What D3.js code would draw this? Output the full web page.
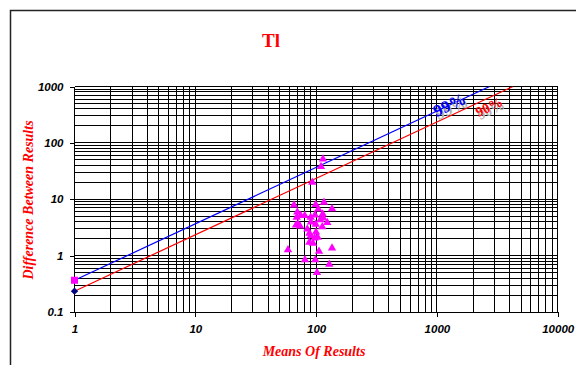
<!DOCTYPE html>
<html>
<head>
<meta charset="utf-8">
<script src="https://cdn.jsdelivr.net/npm/d3@7"></script>
<style>
  body { margin: 0; background: #fff; }
  svg { display: block; }
</style>
</head>
<body>
<svg id="chart" width="576" height="365"></svg>
<script>
// Tl - difference between duplicate results vs their means
let meanVals = [114.0, 109.8, 93.0, 65.6, 99.3, 116.2, 135.5, 104.2, 69.9, 97.9,
  113.4, 74.6, 80.5, 69.1, 90.2, 114.7, 108.3, 90.7, 123.8, 70.8,
  68.2, 73.6, 99.3, 84.6, 112.5, 99.8, 87.9, 90.2, 103.1, 97.3,
  87.9, 94.3, 58.5, 105.7, 135.5, 80.9, 98.5, 128.6, 101.7];
let diffVals = [51.6, 38.0, 19.9, 7.89, 8.05, 8.81, 6.79, 6.70, 5.93, 5.25,
  5.47, 5.14, 5.14, 4.78, 4.78, 4.64, 4.33, 3.94, 3.86, 3.63,
  3.49, 3.35, 3.59, 2.96, 3.25, 2.62, 2.49, 2.25, 2.11, 2.05,
  1.72, 1.65, 1.27, 1.19, 1.36, 0.84, 0.84, 0.70, 0.50];

// control limit lines (difference = k * mean)
let limitNames = ["99%", "90%"];
let limitStart = [0.366, 0.234];   // value at mean = 1
let limitEnd = [1000, 1000];
let limitEndX = [2730, 4270];

let xTicks = [1, 10, 100, 1000, 10000];
let yTicks = [0.1, 1, 10, 100, 1000];

let svg = d3.select("#chart");
let margin = { left: 74.5, right: 18.3, top: 86.5, bottom: 53 };
let W = 576, H = 365;

// outer frame
svg.append("path")
  .attr("d", "M10.5," + (H + 5) + "V10.5H" + (W + 5))
  .attr("fill", "none").attr("stroke", "#222").attr("stroke-width", 1.5);

let x = d3.scaleLog().domain([1, 10000]).range([margin.left, W - margin.right]);
let y = d3.scaleLog().domain([0.1, 1000]).range([H - margin.bottom, margin.top]);

// grid
let gx = [], gy = [];
for (let d = 1; d < 10000; d *= 10) for (let m = 1; m < 10; m++) gx.push(d * m);
gx.push(10000);
for (let d = 0.1; d < 1000; d *= 10) for (let m = 1; m < 10; m++) gy.push(+(d * m).toPrecision(3));
gy.push(1000);

let grid = svg.append("g").attr("shape-rendering", "crispEdges").attr("stroke", "#000").attr("stroke-width", 1);
grid.selectAll(".vx").data(gx).enter().append("line")
  .attr("x1", d => x(d)).attr("x2", d => x(d))
  .attr("y1", y(1000)).attr("y2", y(0.1));
grid.selectAll(".hy").data(gy).enter().append("line")
  .attr("y1", d => y(d)).attr("y2", d => y(d))
  .attr("x1", x(1)).attr("x2", x(10000));

// axes
let fmt = d => d3.format("")(d);
let xAxis = svg.append("g").attr("transform", "translate(0," + y(0.1) + ")")
  .call(d3.axisBottom(x).tickValues(xTicks).tickFormat(fmt).tickSize(5).tickPadding(8));
let yAxis = svg.append("g").attr("transform", "translate(" + x(1) + ",0)")
  .call(d3.axisLeft(y).tickValues(yTicks).tickFormat(fmt).tickSize(5).tickPadding(6));
[xAxis, yAxis].forEach(a => {
  a.select(".domain").remove();
  a.selectAll("line").attr("stroke", "#000").attr("shape-rendering", "crispEdges");
  a.selectAll("text")
    .style("font-family", "'Liberation Sans', Arial, sans-serif")
    .style("font-size", "11.5px").style("font-weight", "bold").style("font-style", "italic")
    .attr("fill", "#000");
});

// limit lines
let lineColors = ["#0000ff", "#ff0000"];
svg.append("clipPath").attr("id", "plotclip").append("rect")
  .attr("x", x(1)).attr("y", y(1000)).attr("width", x(10000) - x(1)).attr("height", y(0.1) - y(1000));
limitNames.forEach((n, i) => {
  svg.append("line")
    .attr("clip-path", "url(#plotclip)")
    .attr("x1", x(1)).attr("y1", y(limitStart[i]))
    .attr("x2", x(limitEndX[i])).attr("y2", y(limitEnd[i]))
    .attr("stroke", lineColors[i]).attr("stroke-width", 1.2);
});

// start markers of the limit series
svg.append("rect")
  .attr("x", x(1) - 3.5).attr("y", y(limitStart[0]) - 3.5)
  .attr("width", 7).attr("height", 7).attr("fill", "#ff00ff");
svg.append("path")
  .attr("transform", "translate(" + x(1) + "," + y(limitStart[1]) + ") rotate(45)")
  .attr("d", "M-2.6,-2.6H2.6V2.6H-2.6Z").attr("fill", "#000080");

// data points
svg.selectAll(".pt").data(meanVals).enter().append("path")
  .attr("transform", (d, i) => "translate(" + x(d) + "," + y(diffVals[i]) + ")")
  .attr("d", d3.symbol(d3.symbolTriangle, 30))
  .attr("fill", "#ff00ff");

// limit labels with grey shadow
let angle = -Math.atan((y(1) - y(10)) / (x(10) - x(1))) * 180 / Math.PI;
let labelPos = [[452, 110, 17], [491, 111, 14]];
limitNames.forEach((n, i) => {
  let p = labelPos[i];
  [["#b0b0b0", 2, 3], [lineColors[i], 0, 0]].forEach(s => {
    svg.append("text")
      .attr("transform", "translate(" + (p[0] + s[1]) + "," + (p[1] + s[2]) + ") rotate(" + angle + ")")
      .attr("text-anchor", "middle")
      .style("font-family", "'Liberation Serif', 'Times New Roman', serif")
      .style("font-size", p[2] + "px").style("font-weight", "bold")
      .attr("fill", s[0]).text(n);
  });
});

// titles
svg.append("text").attr("x", 271).attr("y", 47).attr("text-anchor", "middle")
  .style("font-family", "'Liberation Serif', serif").style("font-size", "19px").style("font-weight", "bold")
  .attr("fill", "#ff0000").text("Tl");
svg.append("text").attr("x", 314).attr("y", 356).attr("text-anchor", "middle")
  .style("font-family", "'Liberation Serif', serif").style("font-size", "14px")
  .style("font-weight", "bold").style("font-style", "italic")
  .attr("fill", "#ff0000").text("Means Of Results");
svg.append("text").attr("transform", "translate(33,200) rotate(-90)").attr("text-anchor", "middle")
  .style("font-family", "'Liberation Serif', serif").style("font-size", "14px")
  .style("font-weight", "bold").style("font-style", "italic")
  .attr("fill", "#ff0000").text("Difference Between Results");
</script>
</body>
</html>
